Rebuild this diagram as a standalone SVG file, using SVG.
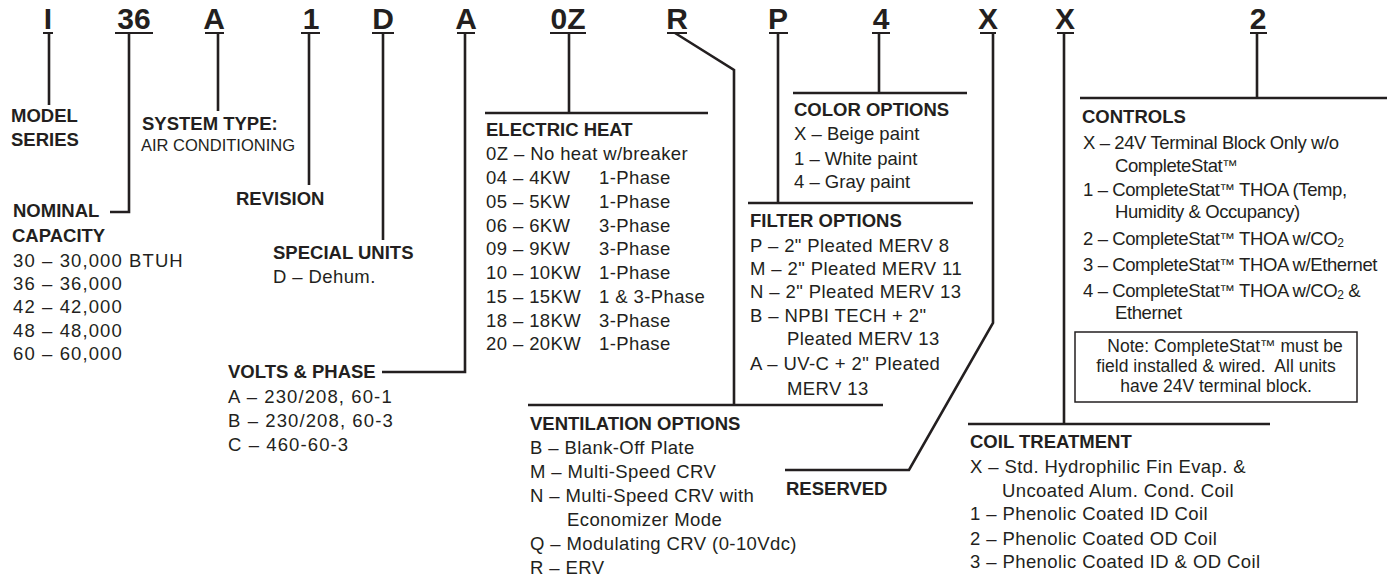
<svg xmlns="http://www.w3.org/2000/svg" width="1387" height="580" viewBox="0 0 1387 580">
<style>
text{font-family:"Liberation Sans",Arial,sans-serif;fill:#231f20}
.code{font-size:30px;font-weight:bold;text-anchor:middle}
.h{font-size:18.5px;font-weight:bold}
.t{font-size:18.5px;letter-spacing:0.4px}
.d{letter-spacing:1.1px}
.c{letter-spacing:0}
.k{letter-spacing:-0.4px}
.tm{font-size:15.5px}
.n{font-size:17.5px;white-space:pre}
.ln{stroke:#231f20;stroke-width:2.6;fill:none}
.ul{stroke:#231f20;stroke-width:2;fill:none}
</style>
<rect width="1387" height="580" fill="#fff"/>
<g id="code">
<text class="code" x="48" y="29">I</text>
<text class="code" x="134" y="29">36</text>
<text class="code" x="214" y="29">A</text>
<text class="code" x="311" y="29">1</text>
<text class="code" x="383" y="29">D</text>
<text class="code" x="466" y="29">A</text>
<text class="code" x="568" y="29">0Z</text>
<text class="code" x="677" y="29">R</text>
<text class="code" x="778" y="29">P</text>
<text class="code" x="881" y="29">4</text>
<text class="code" x="988" y="29">X</text>
<text class="code" x="1065" y="29">X</text>
<text class="code" x="1258" y="29">2</text>
<path class="ul" d="M43 33H53M115 33H153M205 33H224M301 33H320M372 33H394M457 33H475M550 33H586M667 33H687M769 33H788M872 33H890M980 33H996M1057 33H1074M1250 33H1267"/>
</g>
<g id="connectors">
<path class="ln" d="M49 33V105"/>
<path class="ln" d="M129 33V212H110"/>
<path class="ln" d="M218 33V111"/>
<path class="ln" d="M309 33V185"/>
<path class="ln" d="M383 33V240"/>
<path class="ln" d="M465 33V372H382"/>
<path class="ln" d="M569 33V113M485 113H708"/>
<path class="ln" d="M675 33L734 70V405M528 405H883"/>
<path class="ln" d="M778 33V203M748 203H973"/>
<path class="ln" d="M879 33V93M793 93H967"/>
<path class="ln" d="M993 33V323L909 470H785"/>
<path class="ln" d="M1064 33V424M968 424H1270"/>
<path class="ln" d="M1257 33V98M1080 98H1387"/>
</g>
<g id="model-series">
<text class="h" x="11" y="122">MODEL</text>
<text class="h" x="11" y="146">SERIES</text>
</g>
<g id="system-type">
<text class="h" x="142" y="130">SYSTEM TYPE:</text>
<text x="141" y="151" font-size="16.5">AIR CONDITIONING</text>
</g>
<g id="revision">
<text class="h" x="236" y="205">REVISION</text>
</g>
<g id="nominal-capacity">
<text class="h" x="13" y="217">NOMINAL</text>
<text class="h" x="12" y="242">CAPACITY</text>
<text class="t d" x="13" y="267">30 – 30,000 BTUH</text>
<text class="t d" x="13" y="290">36 – 36,000</text>
<text class="t d" x="13" y="313">42 – 42,000</text>
<text class="t d" x="13" y="337">48 – 48,000</text>
<text class="t d" x="13" y="360">60 – 60,000</text>
</g>
<g id="special-units">
<text class="h" x="273" y="259">SPECIAL UNITS</text>
<text class="t" x="273" y="283">D – Dehum.</text>
</g>
<g id="volts-phase">
<text class="h" x="228" y="378">VOLTS &amp; PHASE</text>
<text class="t d" x="228" y="403">A – 230/208, 60-1</text>
<text class="t d" x="228" y="427">B – 230/208, 60-3</text>
<text class="t d" x="228" y="451">C – 460-60-3</text>
</g>
<g id="electric-heat">
<text class="h" x="486" y="136">ELECTRIC HEAT</text>
<text class="t" x="486" y="160">0Z – No heat w/breaker</text>
<text class="t" x="486" y="184">04 – 4KW</text><text class="t" x="599" y="184">1-Phase</text>
<text class="t" x="486" y="208">05 – 5KW</text><text class="t" x="599" y="208">1-Phase</text>
<text class="t" x="486" y="232">06 – 6KW</text><text class="t" x="599" y="232">3-Phase</text>
<text class="t" x="486" y="255">09 – 9KW</text><text class="t" x="599" y="255">3-Phase</text>
<text class="t" x="486" y="279">10 – 10KW</text><text class="t" x="599" y="279">1-Phase</text>
<text class="t" x="486" y="303">15 – 15KW</text><text class="t" x="599" y="303">1 &amp; 3-Phase</text>
<text class="t" x="486" y="327">18 – 18KW</text><text class="t" x="599" y="327">3-Phase</text>
<text class="t" x="486" y="350">20 – 20KW</text><text class="t" x="599" y="350">1-Phase</text>
</g>
<g id="color-options">
<text class="h" x="794" y="116">COLOR OPTIONS</text>
<text class="t c" x="794" y="140">X – Beige paint</text>
<text class="t c" x="794" y="165">1 – White paint</text>
<text class="t c" x="794" y="188">4 – Gray paint</text>
</g>
<g id="filter-options">
<text class="h" x="750" y="227">FILTER OPTIONS</text>
<text class="t" x="750" y="252">P – 2" Pleated MERV 8</text>
<text class="t" x="750" y="275">M – 2" Pleated MERV 11</text>
<text class="t" x="750" y="298">N – 2" Pleated MERV 13</text>
<text class="t" x="750" y="322">B – NPBI TECH + 2"</text>
<text class="t" x="787" y="345">Pleated MERV 13</text>
<text class="t" x="750" y="370">A – UV-C + 2" Pleated</text>
<text class="t" x="787" y="395">MERV 13</text>
</g>
<g id="ventilation-options">
<text class="h" x="530" y="430">VENTILATION OPTIONS</text>
<text class="t" x="530" y="454">B – Blank-Off Plate</text>
<text class="t" x="530" y="478">M – Multi-Speed CRV</text>
<text class="t" x="530" y="502">N – Multi-Speed CRV with</text>
<text class="t" x="567" y="526">Economizer Mode</text>
<text class="t" x="530" y="550">Q – Modulating CRV (0-10Vdc)</text>
<text class="t" x="530" y="574">R – ERV</text>
</g>
<g id="reserved">
<text class="h" x="786" y="495">RESERVED</text>
</g>
<g id="controls">
<text class="h" x="1082" y="123">CONTROLS</text>
<text class="t k" x="1083" y="149">X – 24V Terminal Block Only w/o</text>
<text class="t k" x="1115" y="172">CompleteStat<tspan class="tm" dy="-1">™</tspan></text>
<text class="t k" x="1083" y="196">1 – CompleteStat<tspan class="tm" dy="-1">™</tspan><tspan dy="1"> THOA (Temp,</tspan></text>
<text class="t k" x="1115" y="218">Humidity &amp; Occupancy)</text>
<text class="t k" x="1083" y="245">2 – CompleteStat<tspan class="tm" dy="-1">™</tspan><tspan dy="1"> THOA w/CO</tspan><tspan font-size="12" dy="2">2</tspan></text>
<text class="t k" x="1083" y="271">3 – CompleteStat<tspan class="tm" dy="-1">™</tspan><tspan dy="1"> THOA w/Ethernet</tspan></text>
<text class="t k" x="1083" y="297">4 – CompleteStat<tspan class="tm" dy="-1">™</tspan><tspan dy="1"> THOA w/CO</tspan><tspan font-size="12" dy="2">2</tspan><tspan dy="-2"> &amp;</tspan></text>
<text class="t k" x="1115" y="319">Ethernet</text>
</g>
<g id="note">
<rect x="1075" y="332" width="282" height="70" fill="none" stroke="#231f20" stroke-width="1.5"/>
<text class="n" x="1225" y="352" text-anchor="middle">Note: CompleteStat<tspan class="tm" dy="-1">™</tspan><tspan dy="1"> must be</tspan></text>
<text class="n" x="1216" y="372" text-anchor="middle">field installed &amp; wired.  All units</text>
<text class="n" x="1216" y="392" text-anchor="middle">have 24V terminal block.</text>
</g>
<g id="coil-treatment">
<text class="h" x="970" y="448">COIL TREATMENT</text>
<text class="t" x="970" y="473">X – Std. Hydrophilic Fin Evap. &amp;</text>
<text class="t" x="1002" y="497">Uncoated Alum. Cond. Coil</text>
<text class="t" x="970" y="520">1 – Phenolic Coated ID Coil</text>
<text class="t" x="970" y="545">2 – Phenolic Coated OD Coil</text>
<text class="t" x="970" y="568">3 – Phenolic Coated ID &amp; OD Coil</text>
</g>
</svg>
